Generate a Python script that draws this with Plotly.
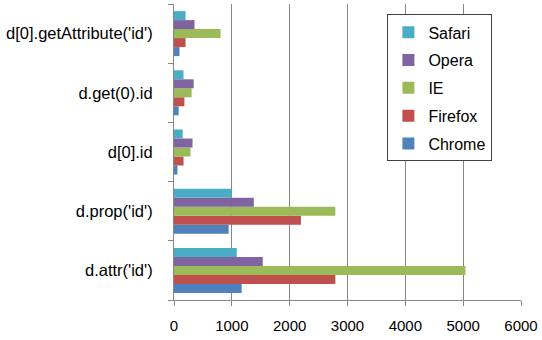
import plotly.graph_objects as go

categories = ["d.attr('id')", "d.prop('id')", "d[0].id", "d.get(0).id", "d[0].getAttribute('id')"]
series_names = ["Chrome", "Firefox", "IE", "Opera", "Safari"]
chrome = [1170, 945, 60, 80, 95]
firefox = [2790, 2195, 165, 180, 200]
ie = [5040, 2790, 285, 305, 805]
opera = [1535, 1380, 320, 340, 355]
safari = [1085, 1000, 150, 165, 200]
colors = ["#4F81BD", "#C0504D", "#9BBB59", "#8064A2", "#4BACC6"]
x_ticks = [0, 1000, 2000, 3000, 4000, 5000, 6000]

font = "Liberation Sans"
fig = go.Figure()
for i, (name, vals, col) in enumerate(zip(series_names, [chrome, firefox, ie, opera, safari], colors)):
    fig.add_trace(go.Bar(y=categories, x=vals, name=name, orientation="h",
                         marker=dict(color=col, line=dict(width=0)),
                         legendgroup=name, legendrank=len(series_names) - i))

fig.update_layout(
    width=542, height=340,
    margin=dict(l=174, r=21, t=4, b=40),
    paper_bgcolor="white", plot_bgcolor="white",
    barmode="group", bargap=0.24, bargroupgap=0,
    font=dict(family=font, size=15, color="black"),
    showlegend=True,
    legend=dict(x=0.615, y=0.965, xanchor="left", yanchor="top",
                traceorder="grouped", tracegroupgap=4, itemwidth=30,
                bordercolor="#404040", borderwidth=1, bgcolor="white",
                font=dict(family=font, size=16)),
    xaxis=dict(range=[0, 6000], tickvals=x_ticks, ticktext=[str(v) for v in x_ticks],
               showgrid=True, gridcolor="#868686", gridwidth=1,
               showline=True, linecolor="#868686", linewidth=1,
               ticks="outside", ticklen=5, tickcolor="#868686",
               tickfont=dict(size=15), ticklabelstandoff=7,
               zeroline=False, fixedrange=True),
    yaxis=dict(type="category", categoryorder="array", categoryarray=categories,
               showline=True, linecolor="#868686", linewidth=1,
               ticks="outside", ticklen=5, tickcolor="#868686",
               tickson="boundaries", showgrid=False, ticklabelstandoff=17,
               tickfont=dict(size=16.5), fixedrange=True),
)
fig.write_html("out.html")
